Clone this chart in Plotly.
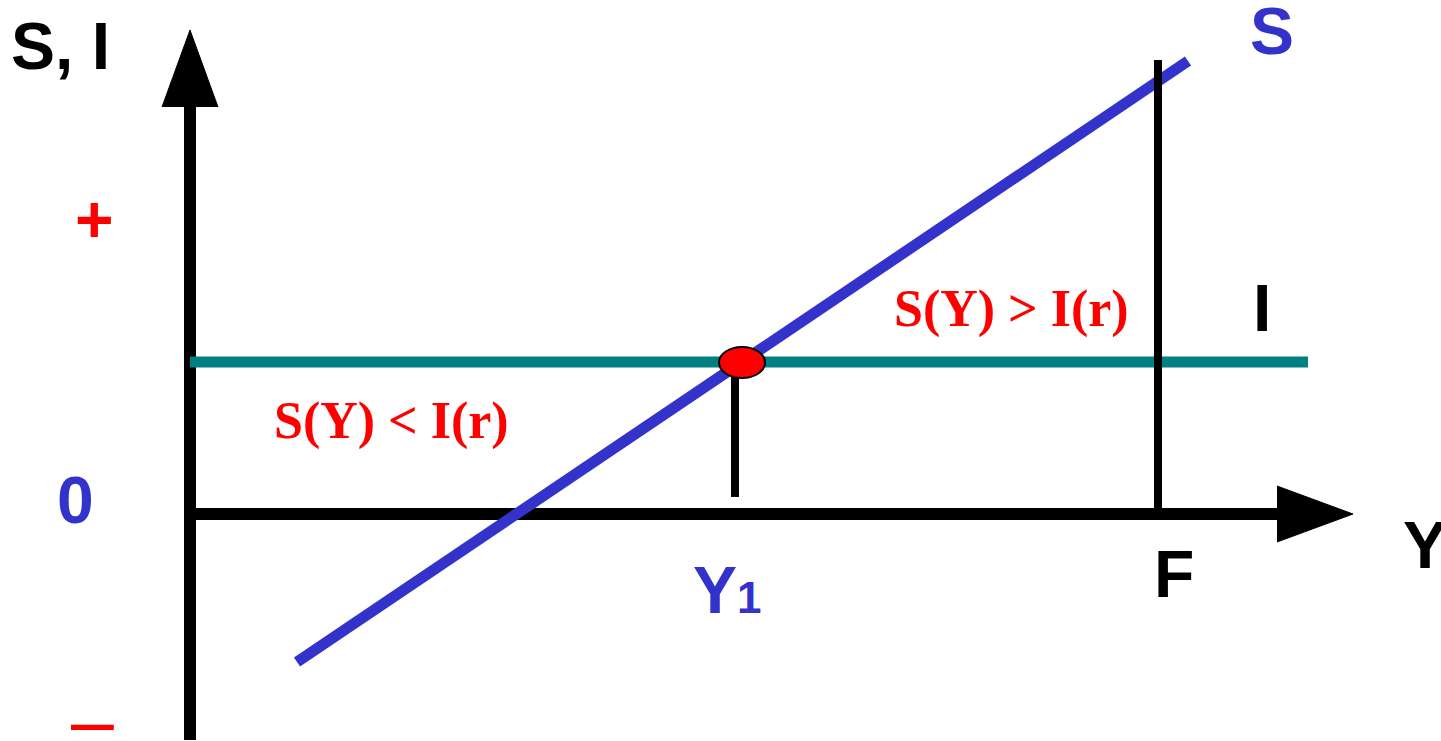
import plotly.graph_objects as go

# ---- data (diagram units: origin at Y=0, S=I=0) ----
axis_y_x = [0.0, 0.0]            # vertical axis
axis_y_y = [-2.26, 4.07]
arrow_up_x = [-0.28, 0.0, 0.28]
arrow_up_y = [4.07, 4.84, 4.07]
axis_x_x = [0.0, 10.87]           # horizontal axis
axis_x_y = [0.0, 0.0]
arrow_right_x = [10.87, 11.63, 10.87]
arrow_right_y = [0.28, 0.0, -0.28]

I_Y = [0.0, 11.18]                # investment (horizontal)
I_val = [1.52, 1.52]
S_Y = [1.07, 9.98]                # saving line
S_val = [-1.48, 4.53]
F_Y = [9.68, 9.68]                # full employment output
F_val = [0.0, 4.54]
Y1_Y = [5.45, 5.45]               # equilibrium output drop line
Y1_val = [0.17, 1.52]
eq_Y, eq_S = 5.52, 1.515          # equilibrium point

BLUE = "#3333CC"
RED = "#FF0000"
TEAL = "#008080"

fig = go.Figure()

def line(x, y, color, width):
    fig.add_trace(go.Scatter(x=x, y=y, mode="lines",
                             line=dict(color=color, width=width),
                             hoverinfo="skip"))

def tri(x, y):
    fig.add_trace(go.Scatter(x=x, y=y, mode="lines", fill="toself",
                             fillcolor="black", line=dict(color="black", width=1),
                             hoverinfo="skip"))

line(axis_y_x, axis_y_y, "black", 12)
tri(arrow_up_x, arrow_up_y)
line(axis_x_x, axis_x_y, "black", 12)
tri(arrow_right_x, arrow_right_y)
line(I_Y, I_val, TEAL, 11)
line(S_Y, S_val, BLUE, 11)
line(F_Y, F_val, "black", 8)
line(Y1_Y, Y1_val, "black", 8)

fig.add_shape(type="circle", xref="x", yref="y",
              x0=eq_Y - 0.23, x1=eq_Y + 0.23, y0=eq_S - 0.155, y1=eq_S + 0.155,
              fillcolor=RED, line=dict(color="black", width=2), layer="above")

SANS = "Liberation Sans, Arial, sans-serif"
SERIF = "Liberation Serif, Times New Roman, serif"

labels = [
    ("<b>S, I</b>", -1.30, 4.685, "black", SANS, 66),
    ("<b>S</b>", 10.82, 4.83, BLUE, SANS, 66),
    ("<b>I</b>", 10.72, 2.06, "black", SANS, 66),
    ("<b>Y</b>", 12.345, -0.31, "black", SANS, 66),
    ("<b>F</b>", 9.835, -0.60, "black", SANS, 66),
    ("<b>Y<span style='font-size:44px;font-weight:bold'>1</span></b>", 5.37, -0.76, BLUE, SANS, 66),
    ("<b>0</b>", -1.15, 0.145, BLUE, SANS, 66),
    ("<b>+</b>", -0.96, 2.95, RED, SANS, 66),
    ("–", -0.975, -2.06, RED, SANS, 77),
    ("<b>S(Y) < I(r)</b>", 2.015, 0.93, RED, SERIF, 52),
    ("<b>S(Y) > I(r)</b>", 8.215, 2.05, RED, SERIF, 52),
]
for text, x, y, color, fam, size in labels:
    fig.add_annotation(x=x, y=y, xref="x", yref="y", text=text, showarrow=False,
                       font=dict(family=fam, size=size, color=color),
                       xanchor="center", yanchor="middle")

fig.update_layout(
    width=1441, height=741, autosize=False,
    margin=dict(l=0, r=0, t=0, b=0),
    paper_bgcolor="white", plot_bgcolor="white",
    showlegend=False, hovermode=False,
    xaxis=dict(range=[-1.90, 12.51], visible=False, fixedrange=True),
    yaxis=dict(range=[-2.27, 5.14], visible=False, fixedrange=True),
)

fig.write_html("out.html", config={"displayModeBar": False},
               post_script="document.body.style.margin='0';")
